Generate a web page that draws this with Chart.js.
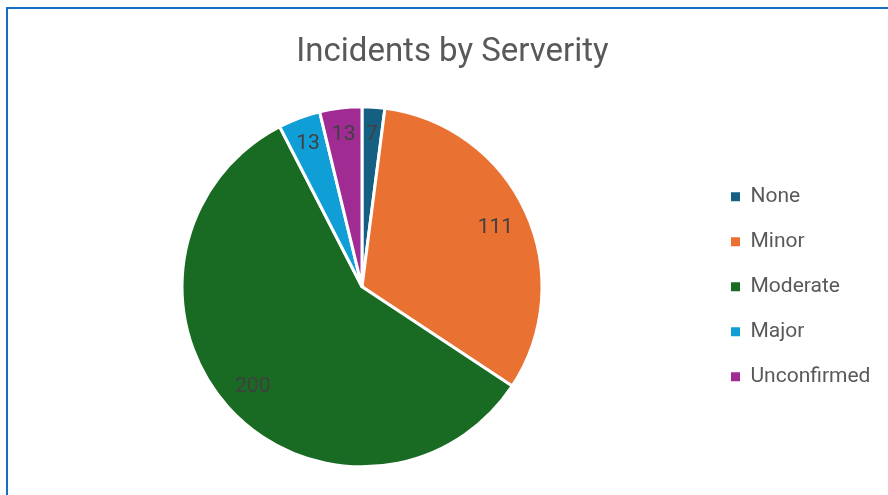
<!DOCTYPE html>
<html>
<head>
<meta charset="utf-8">
<script src="https://cdn.jsdelivr.net/npm/chart.js@4.4.1/dist/chart.umd.min.js"></script>
<style>
  html, body { margin: 0; padding: 0; background: #ffffff; width: 888px; height: 495px; overflow: hidden; }
  #frame { position: absolute; left: 6px; top: 7px; width: 882px; height: 488px;
           border-left: 2px solid #1470C6; border-top: 2px solid #1470C6; box-sizing: border-box; }
  #wrap { position: absolute; left: 8px; top: 9px; width: 880px; height: 486px; }
</style>
</head>
<body>
<div id="frame"></div>
<div id="wrap"><canvas id="c" width="880" height="486"></canvas></div>
<script>
const chartTitle = "Incidents by Serverity";
const categories = ["None", "Minor", "Moderate", "Major", "Unconfirmed"];
const incidentCounts = [7, 111, 200, 13, 13];
const sliceColors = ["#156082", "#E97132", "#196B24", "#0F9ED5", "#A02B93"];

const FONT = "Roboto, 'Open Sans', sans-serif";
const LEGEND_WIDTH = 181;

const valueLabels = {
  id: 'valueLabels',
  afterDatasetsDraw(chart) {
    const ctx = chart.ctx;
    const meta = chart.getDatasetMeta(0);
    const data = chart.data.datasets[0].data;
    ctx.save();
    ctx.font = "21px " + FONT;
    ctx.fillStyle = "#404040";
    ctx.textAlign = "center";
    ctx.textBaseline = "middle";
    meta.data.forEach((arc, i) => {
      const p = arc.getProps(['x', 'y', 'startAngle', 'endAngle', 'outerRadius'], true);
      const mid = (p.startAngle + p.endAngle) / 2;
      const frac = data[i] < 20 ? 0.86 : 0.815;
      const r = p.outerRadius * frac;
      ctx.fillText(String(data[i]), p.x + Math.cos(mid) * r, p.y + Math.sin(mid) * r + 2);
    });
    ctx.restore();
  }
};

const legendWidthFix = {
  id: 'legendWidthFix',
  beforeLayout(chart) {
    const lg = chart.legend;
    if (lg && !lg._widthPatched) {
      const orig = lg.fit;
      lg.fit = function () {
        orig.call(this);
        this.width = Math.max(this.width, LEGEND_WIDTH);
      };
      lg._widthPatched = true;
    }
  }
};

const defaultGen = Chart.overrides.pie.plugins.legend.labels.generateLabels;

new Chart(document.getElementById('c'), {
  type: 'pie',
  data: {
    labels: categories,
    datasets: [{
      data: incidentCounts,
      backgroundColor: sliceColors,
      borderColor: "#ffffff",
      borderWidth: 3,
      hoverOffset: 0
    }]
  },
  options: {
    responsive: false,
    animation: false,
    radius: 180,
    layout: { padding: { left: 9, right: 0, top: 0, bottom: 28 } },
    plugins: {
      title: {
        display: true,
        text: chartTitle,
        color: "#595959",
        font: { family: FONT, size: 33, weight: 'normal' },
        padding: { top: 24, bottom: 34 }
      },
      legend: {
        position: 'right',
        fullSize: false,
        labels: {
          color: "#595959",
          font: { family: FONT, size: 21 },
          boxWidth: 9,
          boxHeight: 9,
          padding: 24,
          generateLabels(chart) {
            return defaultGen(chart).map(l => Object.assign(l, { lineWidth: 0, strokeStyle: 'rgba(0,0,0,0)' }));
          }
        }
      },
      tooltip: { enabled: false }
    }
  },
  plugins: [valueLabels, legendWidthFix]
});
</script>
</body>
</html>
